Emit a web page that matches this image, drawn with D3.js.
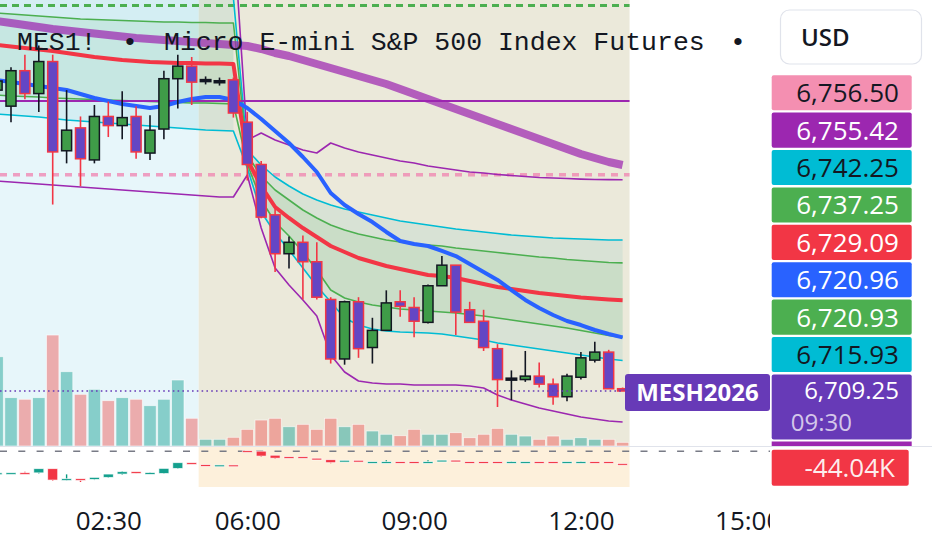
<!DOCTYPE html>
<html>
<head>
<meta charset="utf-8">
<script src="https://cdn.jsdelivr.net/npm/d3@7"></script>
<style>
  body { margin: 0; background: #fff; overflow: hidden; }
  svg { display: block; }
</style>
</head>
<body>
<svg id="draw"></svg>
<script>
// 15 minute bars, exchange break 05:00-06:00
const barTimes = ["00:30","00:45","01:00","01:15","01:30","01:45","02:00","02:15","02:30","02:45",
  "03:00","03:15","03:30","03:45","04:00","04:15","04:30","04:45",
  "06:00","06:15","06:30","06:45","07:00","07:15","07:30","07:45","08:00","08:15","08:30","08:45",
  "09:00","09:15","09:30","09:45","10:00","10:15","10:30","10:45","11:00","11:15","11:30","11:45",
  "12:00","12:15","12:30","12:45"];
const futureTimes = ["13:00","13:15","13:30","13:45","14:00","14:15","14:30","14:45","15:00","15:15","15:30"];
const timeTicks = ["02:30","06:00","09:00","12:00","15:00"];

const opens = [6775.00,6771.50,6779.25,6774.25,6781.25,6761.75,6766.75,6759.75,6769.25,6767.25,
  6769.25,6761.25,6766.50,6777.50,6780.25,6777.25,6777.00,6777.25,
  6768.00,6758.75,6747.75,6739.25,6741.75,6737.50,6729.25,6716.25,6728.75,6718.75,6722.50,6728.75,
  6727.50,6724.25,6732.25,6736.75,6727.00,6724.50,6718.50,6712.00,6711.75,6712.50,6710.75,6708.00,
  6712.25,6716.00,6717.75,6709.75];
const highs = [6778.00,6780.00,6782.75,6784.75,6782.75,6775.00,6769.25,6771.75,6772.50,6774.75,
  6771.50,6769.50,6779.25,6782.75,6782.25,6778.00,6777.75,6777.75,
  6770.25,6759.50,6749.50,6743.00,6743.25,6741.75,6729.75,6729.00,6729.75,6725.25,6731.25,6731.25,
  6729.75,6732.50,6738.75,6736.75,6728.75,6727.00,6719.50,6713.75,6718.00,6715.50,6712.00,6713.00,
  6717.75,6720.00,6718.25,6710.00];
const lows = [6771.00,6768.00,6773.00,6770.25,6750.00,6759.00,6754.00,6759.00,6764.75,6764.25,
  6760.00,6759.75,6764.25,6771.00,6771.75,6776.25,6776.00,6769.00,
  6755.25,6747.00,6735.25,6736.00,6729.25,6729.25,6715.25,6715.00,6716.50,6715.25,6722.50,6725.50,
  6721.00,6724.00,6732.25,6721.50,6724.25,6718.00,6705.75,6707.25,6711.25,6710.00,6706.25,6707.00,
  6711.75,6715.50,6709.75,6709.25];
const closes = [6777.00,6779.25,6774.25,6781.25,6761.50,6766.25,6760.00,6769.25,6767.25,6769.00,
  6761.50,6766.25,6777.50,6780.25,6776.75,6777.25,6777.00,6770.00,
  6758.75,6747.25,6739.25,6741.75,6737.50,6729.75,6716.25,6728.75,6718.50,6722.50,6728.50,6727.75,
  6724.50,6732.25,6736.75,6726.50,6724.25,6718.75,6711.75,6712.00,6712.50,6710.75,6708.00,6712.50,
  6716.50,6717.75,6709.75,6709.25];
const volumes = [10660,5770,5580,5770,13250,8870,6170,6770,5410,5770,5580,4810,5580,7880,3310,800,800,1040,
  1990,3100,3310,2300,2590,1990,3310,2300,2590,1790,1400,1230,1990,1400,1400,1590,990,1400,2110,1400,
  1190,800,1190,800,990,800,800,440];

// cumulative volume delta, thousands
const cvdOpen = [-75,-74,-73.5,-74,-60,-98,-93.5,-96,-89,-78,-70,-74,-76,-59,-40,-46.5,-48.5,-47.5,
  0,-1.5,-15,-20,-20,-25,-30,-33,-32,-37.5,-37.5,-36.5,-36.5,-37.5,-32.5,-31.5,-36.5,-36.5,-36.5,
  -37.5,-37.5,-36.5,-36.5,-37.5,-37.5,-36.5,-36.5,-42.5];
const cvdClose = [-74,-73.5,-74.5,-60,-98,-93.5,-96,-89,-78,-70,-73.5,-73,-59,-40,-41.5,-48,-47.5,-48.5,
  -1.5,-18,-25,-21.5,-21.5,-26.5,-40,-32,-33.5,-36.5,-36.5,-38,-38,-36.5,-31.5,-33,-38,-38,-38,
  -36.5,-36.5,-38,-38,-36.5,-36.5,-38,-38,-44.04];
const cvdHigh = [-74,-73,-68,-60,-60,-77,-93.5,-89,-78,-66,-70,-70,-59,-40,-40,-46.5,-47.5,-47.5,
  0.5,-1.5,-15,-20,-20,-25,-30,-32,-32,-36.5,-30,-36.5,-36.5,-30,-31.5,-31.5,-36.5,-36.5,-36.5,
  -34,-36.5,-36.5,-36.5,-36.5,-34,-36.5,-36.5,-42.5];
const cvdLow = [-75,-74,-74.5,-74,-98,-98,-102.5,-96,-89,-78,-73.5,-74,-76,-59,-41.5,-48,-48.5,-48.5,
  -1.5,-18,-25,-21.5,-21.5,-26.5,-40,-33,-33.5,-37.5,-37.5,-38,-38,-37.5,-32.5,-33,-38,-38,-38,
  -37.5,-37.5,-38,-38,-37.5,-37.5,-38,-38,-44.04];

// moving averages
const ema200 = [6790.11,6789.67,6789.24,6788.80,6788.36,6788.03,6787.71,6787.38,6787.05,6786.72,6786.40,
  6786.18,6785.96,6785.74,6785.52,6785.30,6785.08,6784.87,6784.65,6783.99,6783.12,6782.46,6781.59,
  6780.71,6779.84,6778.97,6778.09,6777.22,6776.34,6775.25,6774.16,6773.06,6771.97,6770.88,6769.79,
  6768.69,6767.60,6766.51,6765.42,6764.32,6763.23,6762.14,6761.05,6760.17,6759.30,6758.64];
const ema20 = [6777.22,6776.78,6776.34,6775.91,6775.47,6775.03,6774.16,6773.28,6772.63,6771.97,6771.54,
  6771.10,6771.54,6772.41,6773.06,6773.50,6773.50,6772.85,
  6771.10,6768.69,6766.07,6763.45,6760.39,6757.11,6752.52,6749.90,6747.93,6746.18,6744.00,6742.03,
  6741.38,6740.94,6739.85,6738.75,6737.01,6735.26,6733.51,6731.32,6729.14,6727.39,6725.86,6724.55,
  6723.67,6722.58,6721.71,6720.96];

// session VWAP and bands
const vwap = [6784.87,6784.54,6784.21,6783.88,6783.55,6783.12,6782.68,6782.24,6781.92,6781.59,6781.37,
  6781.15,6781.04,6780.93,6780.93,6780.82,6780.82,6780.71,
  6759.73,6754.05,6749.46,6747.06,6744.87,6742.91,6740.94,6739.63,6738.32,6737.44,6736.57,6735.91,
  6735.26,6734.60,6734.38,6733.95,6733.29,6732.63,6731.98,6731.54,6731.11,6730.67,6730.34,6730.01,
  6729.68,6729.47,6729.25,6729.09];
const upper1 = [6791.86,6791.64,6791.42,6791.20,6790.99,6790.77,6790.55,6790.44,6790.33,6790.22,6790.11,
  6790.00,6789.89,6789.89,6789.78,6789.78,6789.67,6789.67,
  6760.83,6756.24,6753.18,6750.99,6748.81,6747.06,6745.53,6744.44,6743.56,6742.91,6742.25,6741.81,
  6741.38,6741.16,6740.94,6740.50,6740.17,6739.85,6739.52,6739.19,6738.86,6738.54,6738.32,6737.99,
  6737.77,6737.55,6737.33,6737.25];
const lower1 = [6773.94,6773.72,6773.61,6773.50,6773.28,6773.17,6773.06,6772.96,6772.85,6772.74,6772.63,
  6772.52,6772.41,6772.30,6772.19,6772.19,6772.08,6771.97,
  6758.86,6750.99,6746.18,6743.13,6739.63,6735.69,6731.32,6729.58,6728.70,6728.05,6727.61,6727.17,
  6726.95,6726.73,6726.52,6726.30,6725.97,6725.64,6725.20,6724.77,6724.33,6723.89,6723.46,6723.02,
  6722.47,6721.93,6721.38,6720.93];
const upper2 = [6799.95,6799.51,6799.07,6798.63,6798.31,6797.76,6797.10,6796.45,6796.01,6795.57,6795.36,
  6795.14,6795.14,6795.14,6795.36,6795.36,6795.46,6795.14,
  6761.92,6758.64,6756.02,6754.05,6752.30,6750.99,6749.90,6749.02,6748.37,6747.71,6747.06,6746.40,
  6745.97,6745.53,6745.09,6744.65,6744.33,6744.00,6743.67,6743.34,6743.13,6742.91,6742.69,6742.58,
  6742.47,6742.36,6742.25,6742.25];
const lower2 = [6769.79,6769.57,6769.35,6769.13,6768.80,6768.48,6768.26,6768.04,6767.82,6767.60,6767.38,
  6767.16,6766.95,6766.73,6766.51,6766.29,6766.18,6766.07,
  6757.99,6748.37,6743.78,6740.07,6736.13,6732.20,6728.70,6725.20,6723.67,6722.80,6722.36,6722.15,
  6722.04,6721.93,6721.71,6721.27,6720.83,6720.40,6719.74,6719.30,6718.87,6718.43,6717.99,6717.56,
  6717.12,6716.68,6716.24,6715.93];
const upper3 = [6814.60,6814.15,6813.71,6813.27,6812.83,6812.19,6811.53,6810.87,6810.44,6810.00,6809.78,
  6809.56,6809.56,6809.56,6809.77,6809.77,6809.99,6809.77,
  6764.10,6765.63,6764.10,6763.01,6761.92,6761.26,6763.45,6762.36,6761.48,6760.83,6760.17,6759.52,
  6759.08,6758.42,6757.99,6757.55,6757.11,6756.89,6756.57,6756.35,6756.13,6755.91,6755.80,6755.69,
  6755.56,6755.48,6755.44,6755.42];
const lower3 = [6755.14,6754.93,6754.71,6754.49,6754.27,6754.05,6753.83,6753.61,6753.40,6753.18,6752.96,
  6752.74,6752.52,6752.30,6752.09,6751.87,6751.65,6751.65,
  6756.46,6744.87,6736.13,6732.42,6729.14,6725.64,6717.12,6713.40,6711.44,6711.00,6710.78,6710.78,
  6710.56,6710.56,6710.56,6710.56,6710.34,6709.91,6708.38,6707.28,6706.41,6705.54,6704.88,6704.22,
  6703.57,6703.13,6702.70,6702.48];

// horizontal levels
const priorClose = 6772.63;
const pinkLevel = 6756.50;
const greenLevel = 6793.50;

const symbol = "MES1!";
const description = "Micro E-mini S&P 500 Index Futures";
const contract = "MESH2026";
const countdown = "09:30";
const cvdLabel = "-44.04K";

const width = 932, height = 550;
const plotRight = 770;
const mainBottom = 446, lowTop = 447, lowBottom = 487;
const step = 13.9;
const allTimes = barTimes.concat(futureTimes);
const n = barTimes.length;
const s2Start = barTimes.indexOf("06:00");
const beigeStart = barTimes.indexOf("04:15");

const svg = d3.select("#draw").attr("width", width).attr("height", height);
const defs = svg.append("defs");
defs.append("clipPath").attr("id", "mainClip").append("rect")
  .attr("x", 0).attr("y", 0).attr("width", plotRight).attr("height", mainBottom);
defs.append("clipPath").attr("id", "lowClip").append("rect")
  .attr("x", 0).attr("y", lowTop).attr("width", plotRight).attr("height", lowBottom - lowTop);
defs.append("clipPath").attr("id", "axisClip").append("rect")
  .attr("x", 0).attr("y", lowBottom).attr("width", plotRight).attr("height", height - lowBottom);

const x = d3.scalePoint().domain(allTimes).range([-2.9, -2.9 + step * (allTimes.length - 1)]);
const y = d3.scaleLinear().domain([6697.23, 6794.70]).range([mainBottom, 0]);
const yVol = d3.scaleLinear().domain([0, 16000]).range([mainBottom, 312]);
const yCvd = d3.scaleLinear().domain([-119.2, 14.4]).range([lowBottom, lowTop]);

const xi = i => x(barTimes[i]);
const idx = d3.range(n);

// ---------- main pane ----------
const main = svg.append("g").attr("clip-path", "url(#mainClip)");

main.append("rect")
  .attr("x", xi(0) - step / 2).attr("y", 0)
  .attr("width", xi(beigeStart) - xi(0)).attr("height", mainBottom)
  .attr("fill", "#e7f6fa");
main.append("rect")
  .attr("x", xi(beigeStart) - step / 2).attr("y", 0)
  .attr("width", xi(n - 1) - xi(beigeStart) + step).attr("height", mainBottom)
  .attr("fill", "#ebe9da");

// volume
main.selectAll(".vol")
  .data(idx)
  .enter().append("rect")
  .attr("class", "vol")
  .attr("x", i => xi(i) - 6.2)
  .attr("width", 12.4)
  .attr("y", i => yVol(volumes[i]))
  .attr("height", i => mainBottom - yVol(volumes[i]))
  .attr("fill", i => closes[i] >= opens[i] ? "rgba(38,166,154,0.5)" : "rgba(239,83,80,0.45)")
  .attr("stroke", "rgba(255,255,255,0.7)")
  .attr("stroke-width", 0.8);

// band fills, per session
const sessions = [d3.range(0, s2Start), d3.range(s2Start, n)];
sessions.forEach(function(s) {
  main.append("path")
    .datum(s)
    .attr("fill", "rgba(0,150,170,0.08)")
    .attr("d", d3.area().x(xi).y0(i => y(upper2[i])).y1(i => y(lower2[i])));
  main.append("path")
    .datum(s)
    .attr("fill", "rgba(76,175,80,0.10)")
    .attr("d", d3.area().x(xi).y0(i => y(upper1[i])).y1(i => y(lower1[i])));
});

const line = d3.line().x((d, i) => xi(i)).y(d => y(d));
function drawLine(values, color, w, dash) {
  main.append("path")
    .datum(values)
    .attr("fill", "none")
    .attr("stroke", color)
    .attr("stroke-width", w)
    .attr("stroke-linejoin", "round")
    .attr("stroke-dasharray", dash || null)
    .attr("d", line);
}

// horizontal levels across the data range
function drawLevel(v, color, w, dash) {
  main.append("line")
    .attr("x1", 0).attr("x2", xi(n - 1) + step / 2)
    .attr("y1", y(v)).attr("y2", y(v))
    .attr("stroke", color).attr("stroke-width", w)
    .attr("stroke-dasharray", dash || null);
}
drawLevel(greenLevel, "#4caf50", 3, "7,5");
drawLevel(pinkLevel, "rgba(240,130,175,0.75)", 3.5, "7,6");

drawLine(upper3, "#9c27b0", 1.6);
drawLine(lower3, "#9c27b0", 1.6);
drawLine(upper2, "#00bcd4", 1.6);
drawLine(lower2, "#00bcd4", 1.6);
drawLine(upper1, "#4caf50", 1.6);
drawLine(lower1, "#4caf50", 1.6);
drawLevel(priorClose, "#9c27b0", 2);
drawLine(ema200, "rgba(156,39,176,0.72)", 8);
drawLine(vwap, "#f23645", 4);
drawLine(ema20, "#2962ff", 4);

// candles
const candle = main.selectAll(".candle")
  .data(idx)
  .enter().append("g")
  .attr("class", "candle");

candle.append("line")
  .attr("x1", i => xi(i)).attr("x2", i => xi(i))
  .attr("y1", i => y(highs[i])).attr("y2", i => y(lows[i]))
  .attr("stroke", i => closes[i] >= opens[i] ? "#131722" : "#f23645")
  .attr("stroke-width", 1.6);

candle.append("rect")
  .attr("x", i => xi(i) - 5)
  .attr("width", 10)
  .attr("y", i => y(Math.max(opens[i], closes[i])))
  .attr("height", i => Math.max(1.5, Math.abs(y(opens[i]) - y(closes[i]))))
  .attr("fill", i => closes[i] >= opens[i] ? "#3f9c48" : "#6446c4")
  .attr("stroke", i => closes[i] >= opens[i] ? "#131722" : "#f23645")
  .attr("stroke-width", i => opens[i] === closes[i] ? 2 : 1.5);

// last price line
main.append("line")
  .attr("x1", 0).attr("x2", xi(n - 1))
  .attr("y1", y(closes[n - 1])).attr("y2", y(closes[n - 1]))
  .attr("stroke", "#673ab7").attr("stroke-width", 1.6)
  .attr("stroke-dasharray", "1.6,3.2");

// ---------- lower pane (CVD) ----------
const low = svg.append("g").attr("clip-path", "url(#lowClip)");
low.append("rect")
  .attr("x", xi(beigeStart) - step / 2).attr("y", lowTop)
  .attr("width", xi(n - 1) - xi(beigeStart) + step).attr("height", lowBottom - lowTop)
  .attr("fill", "#fdf0db");
low.append("line")
  .attr("x1", 0).attr("x2", plotRight)
  .attr("y1", yCvd(0)).attr("y2", yCvd(0))
  .attr("stroke", "#787b86").attr("stroke-width", 1.6)
  .attr("stroke-dasharray", "7,11.3");

const cvdCandle = low.selectAll(".cvd")
  .data(idx)
  .enter().append("g")
  .attr("class", "cvd");
cvdCandle.append("line")
  .attr("x1", i => xi(i)).attr("x2", i => xi(i))
  .attr("y1", i => yCvd(cvdHigh[i])).attr("y2", i => yCvd(cvdLow[i]))
  .attr("stroke", i => cvdClose[i] >= cvdOpen[i] ? "#089981" : "#f23645")
  .attr("stroke-width", 1.4);
cvdCandle.append("rect")
  .attr("x", i => xi(i) - 5)
  .attr("width", 10)
  .attr("y", i => yCvd(Math.max(cvdOpen[i], cvdClose[i])) - 0.6)
  .attr("height", i => Math.max(1.8, Math.abs(yCvd(cvdOpen[i]) - yCvd(cvdClose[i]))))
  .attr("fill", i => cvdClose[i] >= cvdOpen[i] ? "#14a08e" : "#f23645")
  .attr("stroke", "rgba(255,255,255,0.8)")
  .attr("stroke-width", 0.8);

// pane separator
svg.append("line")
  .attr("x1", 0).attr("x2", width)
  .attr("y1", 446.5).attr("y2", 446.5)
  .attr("stroke", "#e0e3eb").attr("stroke-width", 1);

// ---------- title ----------
const title = svg.append("g")
  .attr("font-family", "'Courier New', 'Liberation Mono', monospace")
  .attr("font-size", 26.5)
  .attr("fill", "#131722");
title.append("text").attr("x", 17).attr("y", 50).text(symbol);
title.append("text").attr("x", 130).attr("y", 50).attr("text-anchor", "middle").text("\u2022");
title.append("text").attr("x", 164).attr("y", 50).text(description);
title.append("text").attr("x", 738).attr("y", 50).attr("text-anchor", "middle").text("\u2022");

// ---------- price scale labels ----------
const labelFont = "'Open Sans', 'Noto Sans', sans-serif";
const tagH = 35.1, tagGap = 2.3, tagX = 771.7, tagW = 140;

const tags = [
  { v: pinkLevel, fill: "#f48fb1", color: "#131722" },
  { v: upper3[n - 1], fill: "#9c27b0", color: "#fff" },
  { v: upper2[n - 1], fill: "#00bcd4", color: "#131722" },
  { v: upper1[n - 1], fill: "#4caf50", color: "#fff" },
  { v: vwap[n - 1], fill: "#f23645", color: "#fff" },
  { v: ema20[n - 1], fill: "#2962ff", color: "#fff" },
  { v: lower1[n - 1], fill: "#4caf50", color: "#fff" },
  { v: lower2[n - 1], fill: "#00bcd4", color: "#131722" }
];
const fmt = d3.format(",.2f");

const lastTop = y(closes[n - 1]) - 16.6;
// hidden label peeking under the last price tag
svg.append("rect")
  .attr("x", tagX).attr("y", 441.5).attr("width", tagW).attr("height", 4.5)
  .attr("fill", "#9c27b0");

let prevTop = lastTop;
tags.sort((a, b) => a.v - b.v).forEach(function(t) {
  const top = Math.min(y(t.v) - tagH / 2, prevTop - tagGap - tagH);
  prevTop = top;
  svg.append("rect")
    .attr("x", tagX).attr("y", top).attr("width", tagW).attr("height", tagH)
    .attr("rx", 2).attr("fill", t.fill);
  svg.append("text")
    .attr("x", 899).attr("y", top + tagH / 2 + 9.5)
    .attr("text-anchor", "end")
    .attr("font-family", labelFont).attr("font-size", 26)
    .attr("fill", t.color)
    .text(fmt(t.v));
});

// last price tag
svg.append("rect")
  .attr("x", tagX).attr("y", lastTop).attr("width", tagW).attr("height", 65)
  .attr("rx", 2).attr("fill", "#673ab7");
svg.append("text")
  .attr("x", 899).attr("y", lastTop + 25)
  .attr("text-anchor", "end")
  .attr("font-family", labelFont).attr("font-size", 24)
  .attr("fill", "#fff")
  .text(fmt(closes[n - 1]));
svg.append("text")
  .attr("x", tagX + 19).attr("y", lastTop + 57)
  .attr("font-family", labelFont).attr("font-size", 24)
  .attr("fill", "rgba(255,255,255,0.72)")
  .text(countdown);

// contract label
svg.append("rect")
  .attr("x", 625).attr("y", lastTop - 0.5).attr("width", 145).attr("height", 37)
  .attr("rx", 3).attr("fill", "#673ab7");
svg.append("text")
  .attr("x", 697.5).attr("y", lastTop + 27)
  .attr("text-anchor", "middle")
  .attr("font-family", labelFont).attr("font-size", 24).attr("font-weight", 700)
  .attr("fill", "#fff")
  .text(contract);

// CVD tag
const cvdTop = Math.max(449.8, yCvd(cvdClose[n - 1]) - 18);
svg.append("rect")
  .attr("x", tagX).attr("y", cvdTop)
  .attr("width", 137).attr("height", 36)
  .attr("rx", 2).attr("fill", "#f23645");
svg.append("text")
  .attr("x", 895).attr("y", cvdTop + 27)
  .attr("text-anchor", "end")
  .attr("font-family", labelFont).attr("font-size", 26)
  .attr("fill", "rgba(255,255,255,0.92)")
  .text(cvdLabel);

// currency box
svg.append("rect")
  .attr("x", 780.5).attr("y", 10).attr("width", 141).attr("height", 54)
  .attr("rx", 9).attr("fill", "#fff")
  .attr("stroke", "#e0e3eb").attr("stroke-width", 1.2);
svg.append("text")
  .attr("x", 801).attr("y", 46)
  .attr("font-family", labelFont).attr("font-size", 24).attr("font-weight", 600)
  .attr("fill", "#131722")
  .text("USD");

// ---------- time axis ----------
const axisG = svg.append("g")
  .attr("clip-path", "url(#axisClip)")
  .append("g")
  .attr("transform", "translate(0," + lowBottom + ")")
  .call(d3.axisBottom(x).tickValues(timeTicks).tickSize(0));
axisG.select(".domain").remove();
axisG.selectAll("text")
  .attr("y", 43).attr("dy", null)
  .attr("font-family", labelFont).attr("font-size", 26)
  .attr("fill", "#131722");
</script>
</body>
</html>
